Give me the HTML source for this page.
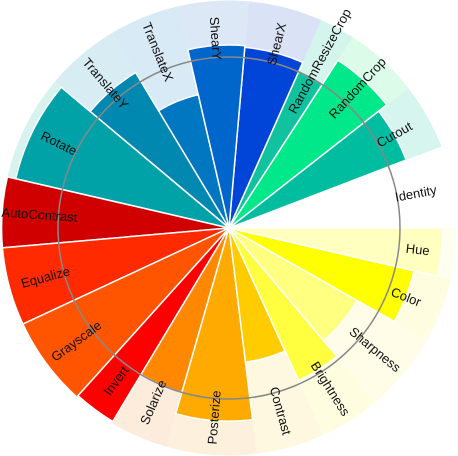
<!DOCTYPE html>
<html><head><meta charset="utf-8"><style>
html,body{margin:0;padding:0;background:#fff;width:458px;height:456px;overflow:hidden}
svg text{font-family:"Liberation Sans",sans-serif;font-size:13px;fill:#111}
</style></head><body>
<svg id="chart" width="458" height="456" xmlns="http://www.w3.org/2000/svg"></svg>
<script>
const categories=["Identity","Cutout","RandomCrop","RandomResizeCrop","ShearX","ShearY","TranslateX","TranslateY","Rotate","AutoContrast","Equalize","Grayscale","Invert","Solarize","Posterize","Contrast","Brightness","Sharpness","Color","Hue"];
const widths=[21,17,19,9,19,18,18,19,27,18,20,23,11,15,23,17.5,15.5,20.5,16.5,13];
const values=[0,1.11,1.17,1.0,1.06,1.07,0.80,1.06,1.28,1.33,1.33,1.33,1.32,1.0,1.13,0.79,0.98,0.86,1.11,1.25];
const colors=["#ffffff","#00bd9f","#00e88a","#10c39e","#0044d8","#0066cc","#0077c0","#0088b0","#00a2a8","#d00000","#ff2a00","#ff5500","#ff0000","#ff8800","#ffaa00","#ffcc00","#ffff40","#ffff80","#ffff00","#ffffc0"];
const bgColors=["#ffffff","#d6f5ee","#dcfbe8","#d4f5ec","#dae2f6","#dce8f6","#d8eaf6","#d8ecf4","#d8f2f0","#d8f2f0","#ffffff","#ffffff","#ffffff","#fdebdb","#fdf0dc","#fff8e0","#fffde0","#fffde8","#fffde0","#fffff0"];
const cx=229,cy=228,unit=171,maxV=1.33,labelR=190;
const svg=document.getElementById('chart');
const NS='http://www.w3.org/2000/svg';
function rScale(v){return v*unit;}
function pt(r,a){const t=a*Math.PI/180;return [cx+r*Math.cos(t),cy-r*Math.sin(t)];}
function wedge(r,a0,a1){const p0=pt(r,a0),p1=pt(r,a1);const large=(a1-a0)>180?1:0;
return `M${cx},${cy}L${p0[0]},${p0[1]}A${r},${r} 0 ${large} 0 ${p1[0]},${p1[1]}Z`;}
let a=0;
const starts=[];
for(let i=0;i<categories.length;i++){starts.push(a);a+=widths[i];}
for(let i=0;i<categories.length;i++){
  const a0=starts[i],a1=a0+widths[i];
  const bg=document.createElementNS(NS,'path');
  bg.setAttribute('d',wedge(rScale(maxV),a0,a1));
  bg.setAttribute('fill',bgColors[i]);
  
  
  svg.appendChild(bg);
}
for(let i=0;i<categories.length;i++){
  const a0=starts[i],a1=a0+widths[i];
  if(values[i]>0){
  const p=document.createElementNS(NS,'path');
  p.setAttribute('d',wedge(rScale(values[i]),a0,a1));
  p.setAttribute('fill',colors[i]);
  p.setAttribute('stroke','#fff');p.setAttribute('stroke-width','1.5');
  
  
  svg.appendChild(p);}
}
const c=document.createElementNS(NS,'circle');
c.setAttribute('cx',cx);c.setAttribute('cy',cy);c.setAttribute('r',rScale(1));
c.setAttribute('fill','none');c.setAttribute('stroke','#888');c.setAttribute('stroke-width','1.5');


svg.appendChild(c);
for(let i=0;i<categories.length;i++){
  const m=starts[i]+widths[i]/2;
  const p=pt(labelR,m);
  let rot=-m; const mm=((m%360)+360)%360;
  if(mm>90&&mm<270)rot=180-m;
  const t=document.createElementNS(NS,'text');
  t.setAttribute('x',p[0]);t.setAttribute('y',p[1]);
  t.setAttribute('text-anchor','middle');t.setAttribute('dominant-baseline','central');
  t.setAttribute('transform',`rotate(${rot} ${p[0]} ${p[1]})`);
  t.textContent=categories[i];
  
  
  svg.appendChild(t);
}
</script>
</body></html>
